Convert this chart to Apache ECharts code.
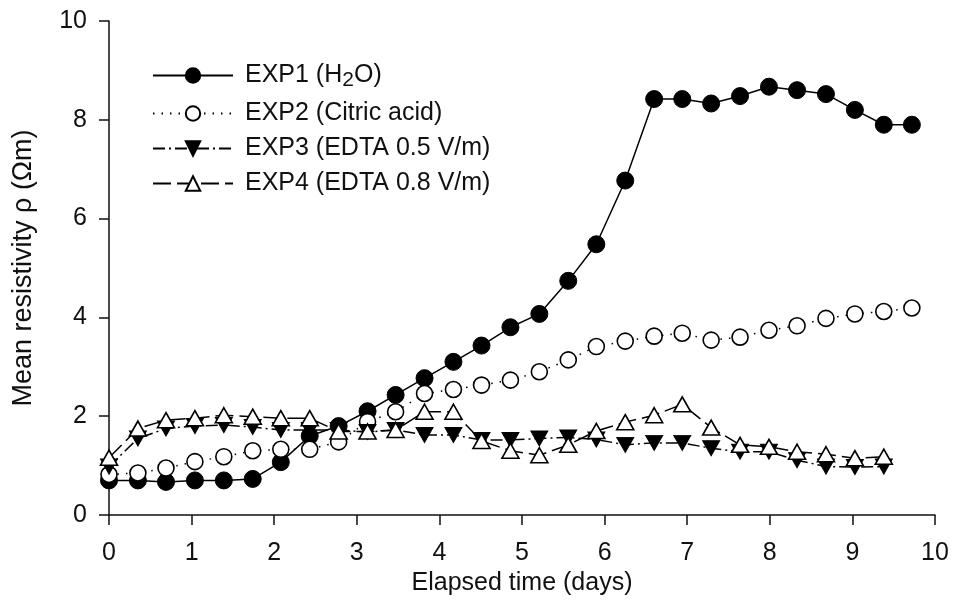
<!DOCTYPE html>
<html>
<head>
<meta charset="utf-8">
<script src="https://cdn.jsdelivr.net/npm/echarts@6/dist/echarts.min.js"></script>
<style>html,body{margin:0;padding:0;background:#fff}#c{width:954px;height:606px}</style>
</head>
<body>
<div id="c"></div>
<script>
const days = [0, 0.35, 0.69, 1.04, 1.39, 1.74, 2.08, 2.43, 2.78, 3.13, 3.47, 3.82, 4.17, 4.51, 4.86, 5.21, 5.56, 5.90, 6.25, 6.60, 6.94, 7.29, 7.64, 7.99, 8.33, 8.68, 9.03, 9.38, 9.72];
const exp1 = [0.70, 0.70, 0.67, 0.70, 0.70, 0.73, 1.07, 1.60, 1.80, 2.10, 2.43, 2.77, 3.10, 3.43, 3.80, 4.07, 4.74, 5.48, 6.77, 8.42, 8.42, 8.33, 8.48, 8.67, 8.60, 8.52, 8.20, 7.90, 7.90];
const exp2 = [0.82, 0.85, 0.95, 1.08, 1.18, 1.30, 1.33, 1.33, 1.48, 1.89, 2.09, 2.46, 2.54, 2.63, 2.73, 2.90, 3.14, 3.41, 3.52, 3.62, 3.68, 3.54, 3.60, 3.74, 3.83, 3.98, 4.07, 4.12, 4.19];
const exp3 = [0.98, 1.55, 1.75, 1.80, 1.82, 1.78, 1.72, 1.72, 1.72, 1.68, 1.72, 1.62, 1.62, 1.52, 1.52, 1.55, 1.57, 1.53, 1.42, 1.46, 1.46, 1.35, 1.28, 1.28, 1.11, 0.98, 0.97, 0.98];
const exp4 = [1.16, 1.75, 1.92, 1.96, 2.02, 1.99, 1.96, 1.96, 1.69, 1.69, 1.72, 2.09, 2.09, 1.50, 1.30, 1.21, 1.42, 1.70, 1.88, 2.02, 2.24, 1.77, 1.42, 1.38, 1.28, 1.23, 1.15, 1.18];
const seriesNames = ['EXP1 (H2O)', 'EXP2 (Citric acid)', 'EXP3 (EDTA 0.5 V/m)', 'EXP4 (EDTA 0.8 V/m)'];
const xTitle = 'Elapsed time (days)';
const yTitle = 'Mean resistivity \u03C1 (\u03A9m)';

const FONT = '"Liberation Sans", Arial, sans-serif';
const INK = '#111';
function pairs(vals) { return vals.map((v, i) => [days[i], v]); }

const chart = echarts.init(document.getElementById('c'), null, { renderer: 'canvas' });
const common = { type: 'line', smooth: false, animation: false, z: 3 };
chart.setOption({
  backgroundColor: '#fff',
  animation: false,
  grid: { left: 109, right: 19, top: 21, bottom: 91, containLabel: false },
  xAxis: {
    type: 'value', min: 0, max: 10, interval: 1,
    name: xTitle, nameLocation: 'middle', nameGap: 54,
    nameTextStyle: { fontFamily: FONT, fontSize: 25, color: INK },
    axisLine: { show: true, onZero: false, lineStyle: { color: INK, width: 1.5 } },
    axisTick: { show: true, inside: false, length: 10, lineStyle: { color: INK, width: 1.5 } },
    axisLabel: { fontFamily: FONT, fontSize: 25, color: INK, margin: 26 },
    splitLine: { show: false }
  },
  yAxis: {
    type: 'value', min: 0, max: 10, interval: 2,
    name: yTitle, nameLocation: 'middle', nameGap: 72, nameRotate: 90,
    nameTextStyle: { fontFamily: FONT, fontSize: 27, color: INK },
    axisLine: { show: true, onZero: false, lineStyle: { color: INK, width: 1.5 } },
    axisTick: { show: true, inside: false, length: 10, lineStyle: { color: INK, width: 1.5 } },
    axisLabel: { fontFamily: FONT, fontSize: 25, color: INK, margin: 22 },
    splitLine: { show: false }
  },
  legend: {
    orient: 'vertical', left: 147, top: 55, itemWidth: 80, itemHeight: 18, itemGap: 10,
    selectedMode: false,
    data: seriesNames,
    formatter: function (n) { return n === seriesNames[0] ? 'EXP1 (H{sub|2}O)' : n; },
    textStyle: {
      fontFamily: FONT, fontSize: 25, color: INK, padding: [0, 0, 0, 7], lineHeight: 24,
      rich: { sub: { fontFamily: FONT, fontSize: 21, color: INK, padding: [10, 0, 0, 0], lineHeight: 24 } }
    }
  },
  series: [
    Object.assign({}, common, {
      name: seriesNames[0], data: pairs(exp1), symbol: 'circle', symbolSize: 17,
      itemStyle: { color: '#000', borderColor: '#000', borderWidth: 1 },
      lineStyle: { color: '#000', width: 1.5, type: 'solid' }
    }),
    Object.assign({}, common, {
      name: seriesNames[1], data: pairs(exp2), symbol: 'circle', symbolSize: 16,
      itemStyle: { color: '#fff', borderColor: '#000', borderWidth: 1.6 },
      lineStyle: { color: '#000', width: 1.5, type: [1.5, 7] }
    }),
    Object.assign({}, common, {
      name: seriesNames[2], data: pairs(exp3), symbol: 'triangle', symbolRotate: 180, symbolSize: [17, 15],
      itemStyle: { color: '#000', borderColor: '#000', borderWidth: 1 },
      lineStyle: { color: '#000', width: 1.5, type: [12, 4, 2, 4] }
    }),
    Object.assign({}, common, {
      name: seriesNames[3], data: pairs(exp4), symbol: 'triangle', symbolSize: [17, 15],
      itemStyle: { color: '#fff', borderColor: '#000', borderWidth: 1.6 },
      lineStyle: { color: '#000', width: 1.5, type: [18, 6] }
    })
  ]
});
</script>
</body>
</html>
